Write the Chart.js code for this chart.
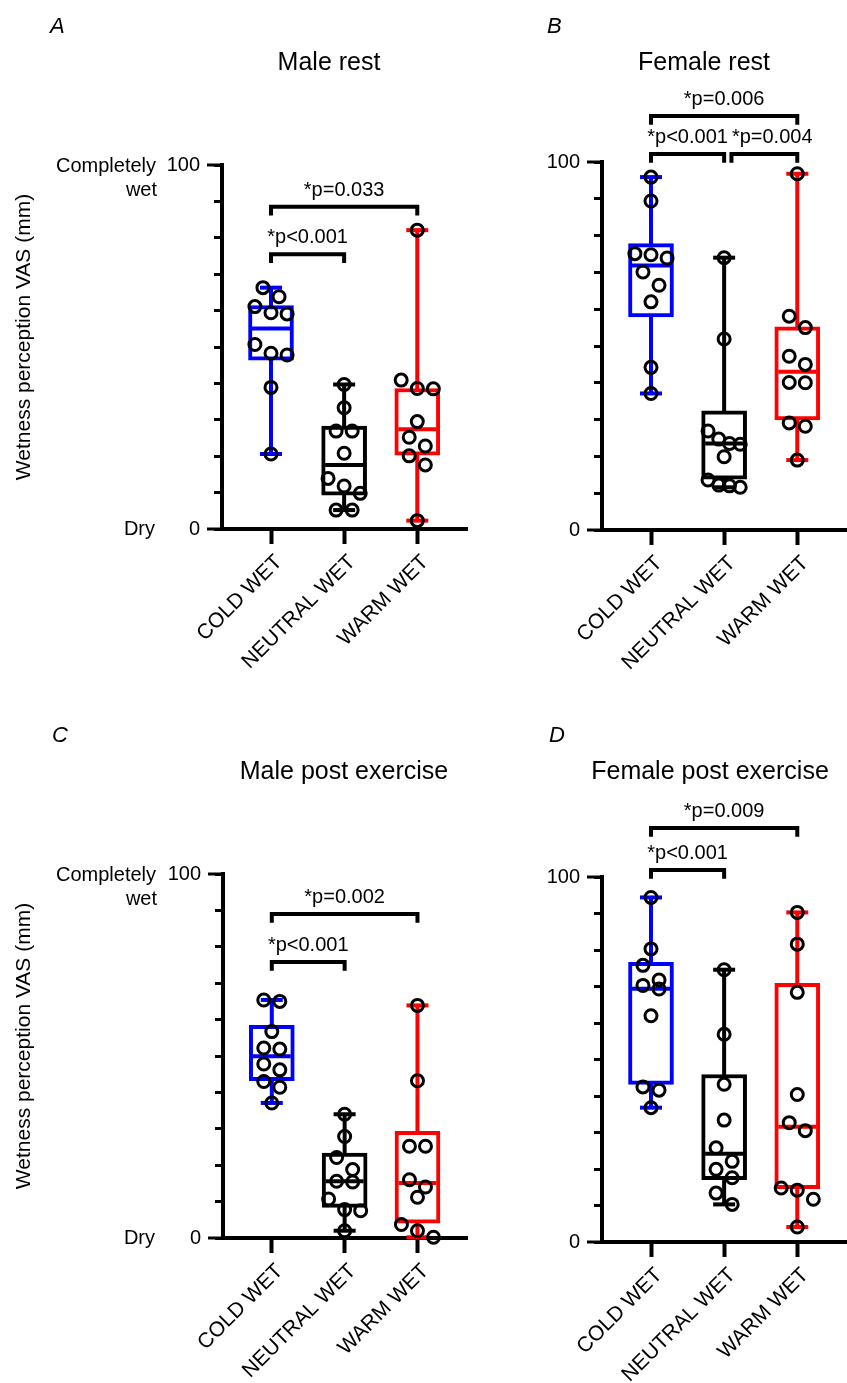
<!DOCTYPE html>
<html>
<head>
<meta charset="utf-8">
<script src="https://cdn.jsdelivr.net/npm/chart.js@4.4.1/dist/chart.umd.min.js"></script>
<style>
  html, body { margin: 0; padding: 0; background: #fff; }
  #wrap { position: relative; width: 847px; height: 1383px; overflow: hidden; }
  canvas { position: absolute; }
</style>
</head>
<body>
<div id="wrap">
  <canvas id="chartA" width="480" height="700" style="left:0;top:0"></canvas>
  <canvas id="chartB" width="367" height="700" style="left:480px;top:0"></canvas>
  <canvas id="chartC" width="480" height="683" style="left:0;top:700px"></canvas>
  <canvas id="chartD" width="367" height="683" style="left:480px;top:700px"></canvas>
</div>
<script>
// categories
const groups = ['COLD WET', 'NEUTRAL WET', 'WARM WET'];

// A - Male rest
const maleRestCold = [66.3, 63.8, 61.1, 59.4, 59.1, 50.7, 48.3, 47.8, 38.9, 20.6];
const maleRestNeutral = [39.7, 33.3, 26.9, 26.9, 20.8, 13.9, 11.8, 9.8, 5.2, 5.2];
const maleRestWarm = [82.1, 40.9, 38.6, 38.5, 29.5, 25.2, 22.8, 20.1, 17.6, 2.3];
const maleRestQ1 = [46.4, 9.3, 20.3];
const maleRestMedian = [55.1, 17.6, 27.4];
const maleRestQ3 = [61.4, 28.3, 38.6];
const maleRestPairs = [[0, 1], [0, 2]];
const maleRestLevels = [75.5, 88.5];
const maleRestP = ['*p<0.001', '*p=0.033'];

// B - Female rest
const femaleRestCold = [95.9, 89.4, 75.1, 74.8, 73.9, 70.1, 66.5, 62.0, 44.2, 37.1];
const femaleRestNeutral = [74.0, 51.9, 26.9, 24.7, 23.5, 23.3, 19.9, 13.6, 12.2, 12.0, 11.6];
const femaleRestWarm = [96.8, 58.1, 55.0, 47.2, 45.0, 40.1, 40.0, 29.1, 28.2, 19.0];
const femaleRestQ1 = [57.9, 13.8, 29.9];
const femaleRestMedian = [71.9, 23.5, 43.0];
const femaleRestQ3 = [77.8, 32.4, 55.2];
const femaleRestPairs = [[0, 1], [1, 2], [0, 2]];
const femaleRestLevels = [102.2, 102.2, 112.5];
const femaleRestP = ['*p<0.001', '*p=0.004', '*p=0.006'];

// C - Male post exercise
const malePostCold = [65.4, 65.0, 56.7, 52.2, 51.9, 47.8, 46.2, 43.0, 41.4, 37.1];
const malePostNeutral = [34.0, 27.9, 22.1, 18.8, 15.6, 15.4, 10.7, 7.8, 7.5, 2.0];
const malePostWarm = [63.9, 43.2, 25.2, 25.2, 16.0, 14.0, 11.2, 3.7, 2.0, 0.2];
const malePostQ1 = [43.2, 8.4, 4.1];
const malePostMedian = [49.9, 15.6, 15.1];
const malePostQ3 = [58.4, 23.3, 29.3];
const malePostPairs = [[0, 1], [0, 2]];
const malePostLevels = [75.8, 89.0];
const malePostP = ['*p<0.001', '*p=0.002'];

// D - Female post exercise
const femalePostCold = [94.4, 80.3, 75.8, 71.8, 70.3, 69.3, 62.0, 42.5, 41.6, 36.8];
const femalePostNeutral = [74.6, 56.9, 43.2, 33.4, 25.8, 22.1, 19.9, 17.6, 13.4, 10.3];
const femalePostWarm = [90.3, 81.6, 68.4, 40.4, 32.7, 30.5, 14.8, 14.2, 11.7, 4.1];
const femalePostQ1 = [43.2, 17.1, 14.6];
const femalePostMedian = [69.4, 24.2, 31.6];
const femalePostQ3 = [76.6, 45.9, 70.9];
const femalePostPairs = [[0, 1], [0, 2]];
const femalePostLevels = [101.9, 113.4];
const femalePostP = ['*p<0.001', '*p=0.009'];

const colors = ['#0000ff', '#000000', '#ff0000'];
const FONT = "'Liberation Sans', Arial, Helvetica, sans-serif";
const LEG = 2.4;      // bracket leg drop, axis units
const BAND = 4.2;     // values closer than this share a row
const SPREAD = 0.22;  // horizontal spacing of points in a row

// spread close points sideways, rows centred on the category
function swarm(values, g) {
    let sorted = values.slice().sort(function(a, b){ return b - a; });
    let out = [];
    let i = 0;
    while (i < sorted.length) {
        let j = i;
        while (j + 1 < sorted.length && sorted[i] - sorted[j + 1] < BAND) j++;
        let k = j - i + 1;
        let step = k > 1 ? Math.min(k - 1, 2) * SPREAD / (k - 1) : 0;
        for (let n = 0; n < k; n++) {
            out.push({x: g + (n - (k - 1) / 2) * step, y: sorted[i + n]});
        }
        i = j + 1;
    }
    return out;
}

const annotate = {
    id: 'annotate',
    afterDatasetsDraw(chart, args, o) {
        const ctx = chart.ctx;
        const area = chart.chartArea;
        const x = chart.scales.x;
        const y = chart.scales.y;
        ctx.save();

        // long ticks at 0 and 100
        ctx.strokeStyle = '#000';
        ctx.lineWidth = 3;
        [0, 100].forEach(function(v){
            let py = y.getPixelForValue(v);
            ctx.beginPath();
            ctx.moveTo(area.left - 15, py);
            ctx.lineTo(area.left, py);
            ctx.stroke();
        });

        // p values over the brackets, pushed right if two would touch
        ctx.fillStyle = '#000';
        ctx.textBaseline = 'alphabetic';
        ctx.textAlign = 'left';
        ctx.font = '20px ' + FONT;
        let placed = [];
        o.pairs.forEach(function(p, i){
            let cx = (x.getPixelForValue(p[0]) + x.getPixelForValue(p[1])) / 2;
            let w = ctx.measureText(o.labels[i]).width;
            let left = cx - w / 2;
            placed.forEach(function(q){
                if (q.level === o.levels[i] && left < q.right + 4) left = q.right + 4;
            });
            placed.push({level: o.levels[i], right: left + w});
            ctx.fillText(o.labels[i], left, y.getPixelForValue(o.levels[i]) - 11);
        });

        ctx.textAlign = 'center';
        ctx.textBaseline = 'middle';
        ctx.font = '25px ' + FONT;
        ctx.fillText(o.title, o.titleX, o.titleY);

        ctx.textAlign = 'left';
        ctx.font = 'italic 22px ' + FONT;
        ctx.fillText(o.letter, o.letterX, o.letterY);

        if (o.leftLabels) {
            ctx.font = '20px ' + FONT;
            ctx.textAlign = 'right';
            let top = y.getPixelForValue(100);
            ctx.fillText('Completely', 156, top + 1);
            ctx.fillText('wet', 157, top + 25);
            ctx.fillText('Dry', 155, y.getPixelForValue(0));

            ctx.font = '21px ' + FONT;
            ctx.translate(24, (area.top + area.bottom) / 2 - 10);
            ctx.rotate(-Math.PI / 2);
            ctx.textAlign = 'center';
            ctx.fillText('Wetness perception VAS (mm)', 0, 0);
        }
        ctx.restore();
    }
};

function makePanel(id, p) {
    let datasets = [];

    p.pairs.forEach(function(pair, i){
        let lv = p.levels[i];
        let a = pair[0];
        // second bracket on the same level starts just right of the shared end
        p.pairs.forEach(function(other, j){
            if (j < i && p.levels[j] === lv && other[1] === a) a = a + 0.1;
        });
        datasets.push({
            type: 'line',
            data: [{x: a, y: lv - LEG}, {x: a, y: lv}, {x: pair[1], y: lv}, {x: pair[1], y: lv - LEG}],
            borderColor: '#000', borderWidth: 4, pointRadius: 0, tension: 0,
            borderJoinStyle: 'miter', borderCapStyle: 'butt', clip: false, order: 0
        });
    });

    let pts = [];
    p.points.forEach(function(vals, g){ pts = pts.concat(swarm(vals, g)); });
    datasets.push({
        type: 'scatter',
        data: pts,
        pointRadius: 6, pointBorderWidth: 3,
        pointBorderColor: '#000', pointBackgroundColor: 'rgba(0,0,0,0)',
        clip: false, order: 0
    });

    datasets.push({
        type: 'scatter',
        data: p.median.map(function(v, g){ return {x: g, y: v}; }),
        pointStyle: 'line', pointRadius: 19, pointBorderWidth: 4,
        pointBorderColor: colors, order: 1
    });

    datasets.push({
        type: 'bar',
        data: p.q1.map(function(v, g){ return {x: g, y: [v, p.q3[g]]}; }),
        backgroundColor: '#fff', borderColor: colors, borderWidth: 4,
        borderSkipped: false, barThickness: 45, order: 2
    });

    p.points.forEach(function(vals, g){
        datasets.push({
            type: 'line',
            data: [{x: g, y: Math.min.apply(null, vals)}, {x: g, y: Math.max.apply(null, vals)}],
            borderColor: colors[g], borderWidth: 4,
            pointStyle: 'line', pointRadius: 11, pointBorderWidth: 4,
            pointBorderColor: colors[g], clip: false, order: 3
        });
    });

    new Chart(document.getElementById(id), {
        type: 'bar',
        data: {datasets: datasets},
        options: {
            responsive: false,
            animation: false,
            events: [],
            layout: {autoPadding: false, padding: {left: 0, right: p.padRight, top: p.padTop, bottom: 0}},
            plugins: {
                legend: {display: false},
                tooltip: {enabled: false},
                annotate: p.text
            },
            scales: {
                x: {
                    type: 'linear', min: -0.67, max: 2.68, offset: false,
                    afterBuildTicks: function(s){ s.ticks = [0, 1, 2].map(function(v){ return {value: v}; }); },
                    afterFit: function(s){
                        s.height = p.xHeight;
                        s.paddingLeft = 0;
                        s.paddingRight = 0;
                    },
                    ticks: {
                        callback: function(v){ return groups[v]; },
                        autoSkip: false, minRotation: 45, maxRotation: 45,
                        font: {family: FONT, size: 21}, color: '#000',
                        padding: 6, labelOffset: 8
                    },
                    grid: {offset: false, drawOnChartArea: false, tickLength: 15, tickWidth: 4, tickColor: '#000'},
                    border: {width: 4, color: '#000'}
                },
                y: {
                    min: 0, max: 100,
                    afterFit: function(s){
                        s.width = p.yWidth;
                        s.paddingTop = 0;
                        s.paddingBottom = 0;
                    },
                    ticks: {
                        stepSize: 10,
                        callback: function(v){ return (v === 0 || v === 100) ? String(v) : ''; },
                        font: {family: FONT, size: 20}, color: '#000', padding: 14
                    },
                    grid: {drawOnChartArea: false, tickLength: 8, tickWidth: 3, tickColor: '#000'},
                    border: {width: 4, color: '#000'}
                }
            }
        },
        plugins: [annotate]
    });
}

makePanel('chartA', {
    points: [maleRestCold, maleRestNeutral, maleRestWarm],
    q1: maleRestQ1, median: maleRestMedian, q3: maleRestQ3,
    pairs: maleRestPairs, levels: maleRestLevels,
    padTop: 165, padRight: 13, xHeight: 171, yWidth: 222,
    text: {pairs: maleRestPairs, levels: maleRestLevels, labels: maleRestP,
           title: 'Male rest', titleX: 329, titleY: 63, letter: 'A', letterX: 50, letterY: 27, leftLabels: true}
});

makePanel('chartB', {
    points: [femaleRestCold, femaleRestNeutral, femaleRestWarm],
    q1: femaleRestQ1, median: femaleRestMedian, q3: femaleRestQ3,
    pairs: femaleRestPairs, levels: femaleRestLevels,
    padTop: 162, padRight: 0, xHeight: 170, yWidth: 122,
    text: {pairs: femaleRestPairs, levels: femaleRestLevels, labels: femaleRestP,
           title: 'Female rest', titleX: 224, titleY: 63, letter: 'B', letterX: 67, letterY: 27, leftLabels: false}
});

makePanel('chartC', {
    points: [malePostCold, malePostNeutral, malePostWarm],
    q1: malePostQ1, median: malePostMedian, q3: malePostQ3,
    pairs: malePostPairs, levels: malePostLevels,
    padTop: 174, padRight: 13, xHeight: 145, yWidth: 223,
    text: {pairs: malePostPairs, levels: malePostLevels, labels: malePostP,
           title: 'Male post exercise', titleX: 344, titleY: 72, letter: 'C', letterX: 52, letterY: 36, leftLabels: true}
});

makePanel('chartD', {
    points: [femalePostCold, femalePostNeutral, femalePostWarm],
    q1: femalePostQ1, median: femalePostMedian, q3: femalePostQ3,
    pairs: femalePostPairs, levels: femalePostLevels,
    padTop: 177, padRight: 0, xHeight: 141, yWidth: 122,
    text: {pairs: femalePostPairs, levels: femalePostLevels, labels: femalePostP,
           title: 'Female post exercise', titleX: 230, titleY: 72, letter: 'D', letterX: 69, letterY: 36, leftLabels: false}
});
</script>
</body>
</html>
